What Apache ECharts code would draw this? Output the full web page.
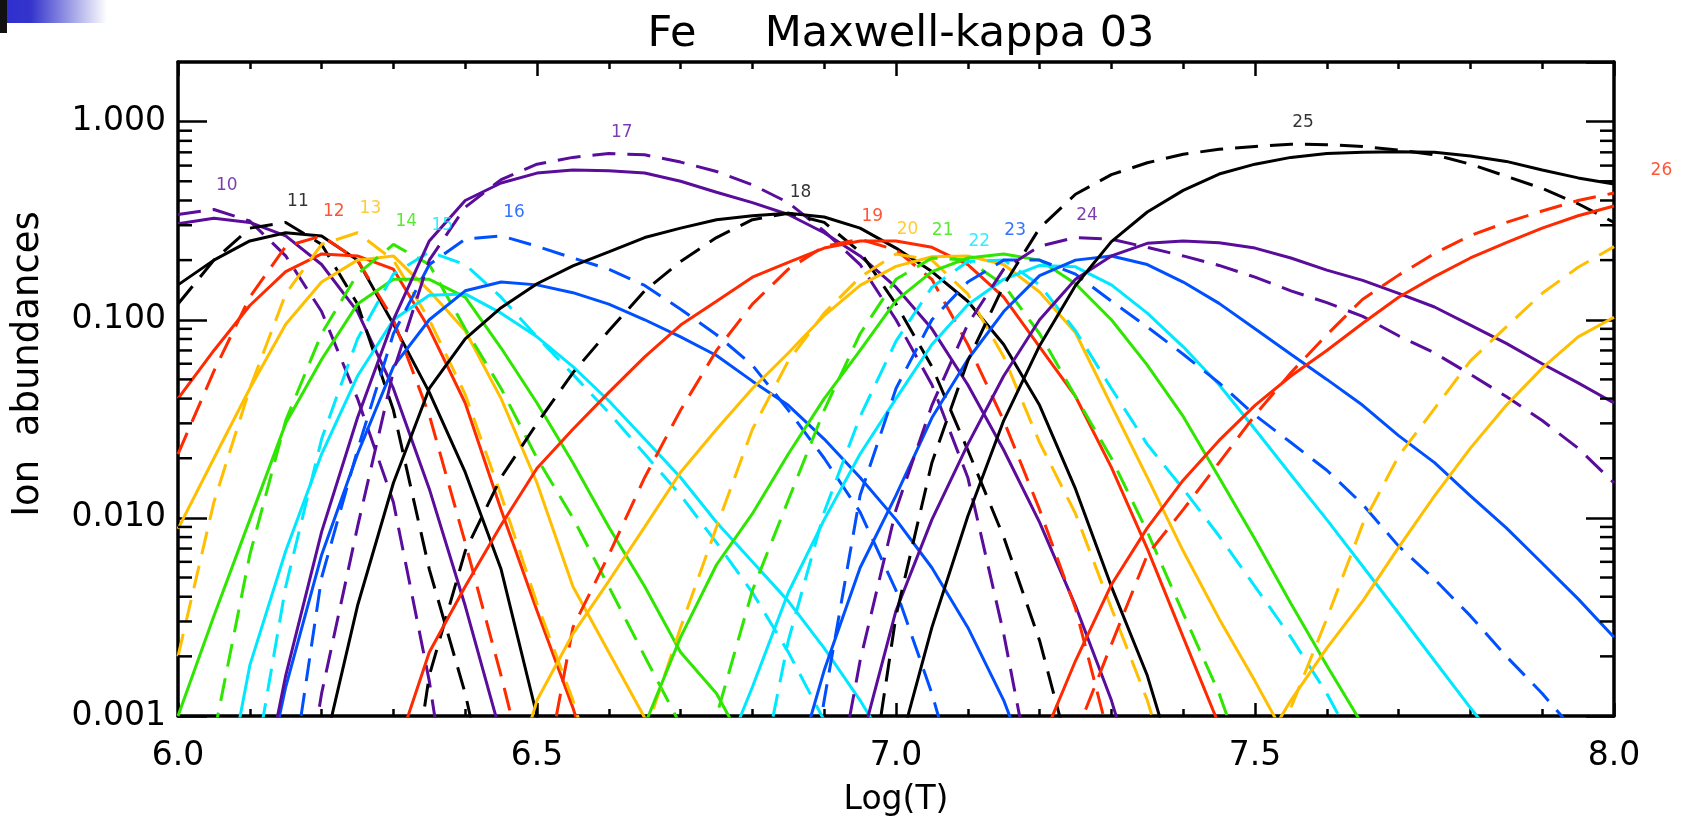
<!DOCTYPE html>
<html><head><meta charset="utf-8">
<script src="https://cdn.jsdelivr.net/npm/echarts@6.0.0/dist/echarts.min.js"></script>
<style>html,body{margin:0;padding:0;background:#fff}#c{width:1687px;height:822px}</style>
</head><body><div id="c"></div>
<script>
// ---- data: [logT, ion fraction] ; solid and dashed curves for each Fe ion ----
const fe10_solid = [[6.00,0.305],[6.05,0.325],[6.10,0.31],[6.15,0.265],[6.20,0.19],[6.25,0.11],[6.30,0.045],[6.35,0.014],[6.40,0.0036],[6.45,0.0008],[6.50,0.0001]];
const fe10_dash  = [[6.00,0.34],[6.05,0.36],[6.10,0.315],[6.15,0.21],[6.20,0.11],[6.25,0.04],[6.30,0.012],[6.35,0.0015],[6.40,0.0001]];
const fe11_solid = [[6.00,0.15],[6.05,0.20],[6.10,0.25],[6.15,0.275],[6.20,0.265],[6.25,0.20],[6.30,0.095],[6.35,0.043],[6.40,0.017],[6.45,0.0055],[6.50,0.001],[6.55,0.00015]];
const fe11_dash  = [[6.00,0.12],[6.05,0.20],[6.10,0.29],[6.15,0.31],[6.20,0.24],[6.25,0.12],[6.30,0.035],[6.35,0.0055],[6.40,0.0013],[6.45,0.0002]];
const fe12_solid = [[6.00,0.04],[6.05,0.07],[6.10,0.118],[6.15,0.175],[6.20,0.215],[6.25,0.21],[6.30,0.18],[6.35,0.09],[6.40,0.038],[6.45,0.011],[6.50,0.0034],[6.55,0.0011],[6.60,0.0003]];
const fe12_dash  = [[6.00,0.021],[6.05,0.055],[6.10,0.13],[6.15,0.235],[6.20,0.265],[6.25,0.20],[6.30,0.10],[6.35,0.033],[6.40,0.0075],[6.45,0.0016],[6.50,0.0003]];
const fe13_solid = [[6.00,0.0088],[6.05,0.02],[6.10,0.045],[6.15,0.095],[6.20,0.155],[6.25,0.20],[6.30,0.21],[6.35,0.14],[6.40,0.088],[6.45,0.04],[6.50,0.015],[6.55,0.0045],[6.60,0.0021],[6.65,0.00098],[6.70,0.0004]];
const fe13_dash  = [[6.00,0.002],[6.05,0.012],[6.10,0.045],[6.15,0.135],[6.20,0.24],[6.25,0.275],[6.30,0.20],[6.35,0.10],[6.40,0.042],[6.45,0.013],[6.50,0.0037],[6.55,0.0012],[6.60,0.0003]];
const fe14_solid = [[6.00,0.001],[6.05,0.0032],[6.10,0.0098],[6.15,0.03],[6.20,0.063],[6.25,0.12],[6.30,0.16],[6.35,0.16],[6.40,0.13],[6.45,0.072],[6.50,0.038],[6.55,0.019],[6.60,0.009],[6.65,0.0045],[6.70,0.0021],[6.75,0.0013],[6.80,0.0006]];
const fe14_dash  = [[6.05,0.0008],[6.10,0.0065],[6.15,0.031],[6.20,0.085],[6.25,0.17],[6.30,0.24],[6.35,0.19],[6.40,0.09],[6.45,0.045],[6.50,0.02],[6.55,0.01],[6.60,0.0045],[6.65,0.002],[6.70,0.0009],[6.75,0.0003]];
const fe15_solid = [[6.05,0.0002],[6.10,0.0018],[6.15,0.0068],[6.20,0.021],[6.25,0.052],[6.30,0.10],[6.35,0.133],[6.40,0.135],[6.45,0.108],[6.50,0.082],[6.55,0.058],[6.60,0.039],[6.65,0.025],[6.70,0.016],[6.75,0.0095],[6.80,0.006],[6.85,0.0038],[6.90,0.0022],[6.95,0.0012],[7.00,0.0006]];
const fe15_dash  = [[6.10,0.0004],[6.15,0.0045],[6.20,0.025],[6.25,0.08],[6.30,0.17],[6.35,0.22],[6.40,0.19],[6.45,0.13],[6.50,0.082],[6.55,0.053],[6.60,0.034],[6.65,0.021],[6.70,0.013],[6.75,0.0075],[6.80,0.0042],[6.85,0.0021],[6.90,0.00095],[6.95,0.0003]];
const fe16_solid = [[6.10,0.0002],[6.15,0.0014],[6.20,0.0065],[6.25,0.021],[6.30,0.058],[6.35,0.10],[6.40,0.14],[6.45,0.155],[6.50,0.15],[6.55,0.137],[6.60,0.12],[6.65,0.10],[6.70,0.082],[6.75,0.066],[6.80,0.049],[6.85,0.037],[6.90,0.025],[6.95,0.016],[7.00,0.0098],[7.05,0.0056],[7.10,0.0028],[7.15,0.0012],[7.20,0.0004]];
const fe16_dash  = [[6.15,0.0003],[6.20,0.005],[6.25,0.022],[6.30,0.085],[6.35,0.19],[6.40,0.255],[6.45,0.265],[6.50,0.235],[6.55,0.205],[6.60,0.18],[6.65,0.149],[6.70,0.113],[6.75,0.084],[6.80,0.059],[6.85,0.035],[6.90,0.02],[6.95,0.0107],[7.00,0.0043],[7.05,0.0013],[7.10,0.0003]];
const fe17_solid = [[6.10,0.0002],[6.15,0.0016],[6.20,0.0085],[6.25,0.032],[6.30,0.10],[6.35,0.25],[6.40,0.40],[6.45,0.49],[6.50,0.55],[6.55,0.57],[6.60,0.565],[6.65,0.55],[6.70,0.50],[6.75,0.44],[6.80,0.39],[6.85,0.34],[6.90,0.275],[6.95,0.21],[7.00,0.146],[7.05,0.09],[7.10,0.047],[7.15,0.022],[7.20,0.0095],[7.25,0.0036],[7.30,0.0012],[7.35,0.0003]];
const fe17_dash  = [[6.15,0.0001],[6.20,0.0013],[6.25,0.009],[6.30,0.055],[6.35,0.2],[6.40,0.37],[6.45,0.51],[6.50,0.61],[6.55,0.66],[6.60,0.69],[6.65,0.68],[6.70,0.625],[6.75,0.56],[6.80,0.48],[6.85,0.39],[6.90,0.28],[6.95,0.19],[7.00,0.10],[7.05,0.047],[7.10,0.016],[7.15,0.0026],[7.20,0.0003]];
const fe18_solid = [[6.20,0.0006],[6.25,0.0036],[6.30,0.015],[6.35,0.045],[6.40,0.08],[6.45,0.115],[6.50,0.152],[6.55,0.187],[6.60,0.22],[6.65,0.26],[6.70,0.29],[6.75,0.32],[6.80,0.335],[6.85,0.345],[6.90,0.33],[6.95,0.29],[7.00,0.23],[7.05,0.175],[7.10,0.124],[7.15,0.075],[7.20,0.037],[7.25,0.014],[7.30,0.0045],[7.35,0.0016],[7.40,0.0004]];
const fe18_dash  = [[6.30,0.0001],[6.35,0.0016],[6.40,0.0068],[6.45,0.016],[6.50,0.03],[6.55,0.054],[6.60,0.088],[6.65,0.14],[6.70,0.197],[6.75,0.26],[6.80,0.32],[6.85,0.345],[6.90,0.31],[6.95,0.22],[7.00,0.12],[7.05,0.058],[7.10,0.022],[7.15,0.008],[7.20,0.0024],[7.25,0.0005]];
const fe19_solid = [[6.30,0.0006],[6.35,0.0021],[6.40,0.0045],[6.45,0.0092],[6.50,0.0178],[6.55,0.028],[6.60,0.043],[6.65,0.065],[6.70,0.094],[6.75,0.124],[6.80,0.164],[6.85,0.195],[6.90,0.23],[6.95,0.25],[7.00,0.25],[7.05,0.232],[7.10,0.19],[7.15,0.13],[7.20,0.073],[7.25,0.041],[7.30,0.018],[7.35,0.007],[7.40,0.0025],[7.45,0.0009],[7.50,0.0003]];
const fe19_dash  = [[6.50,0.0003],[6.55,0.0028],[6.60,0.0065],[6.65,0.016],[6.70,0.035],[6.75,0.07],[6.80,0.12],[6.85,0.18],[6.90,0.235],[6.95,0.255],[7.00,0.225],[7.05,0.16],[7.10,0.075],[7.15,0.031],[7.20,0.011],[7.25,0.0035],[7.30,0.0007]];
const fe20_solid = [[6.45,0.0003],[6.50,0.0012],[6.55,0.0026],[6.60,0.0048],[6.65,0.009],[6.70,0.017],[6.75,0.028],[6.80,0.045],[6.85,0.068],[6.90,0.105],[6.95,0.149],[7.00,0.186],[7.05,0.208],[7.10,0.21],[7.15,0.19],[7.20,0.138],[7.25,0.086],[7.30,0.037],[7.35,0.016],[7.40,0.0068],[7.45,0.0031],[7.50,0.0015],[7.55,0.0007]];
const fe20_dash  = [[6.60,0.0001],[6.65,0.0008],[6.70,0.0028],[6.75,0.009],[6.80,0.028],[6.85,0.062],[6.90,0.108],[6.95,0.164],[7.00,0.215],[7.05,0.2],[7.10,0.135],[7.15,0.065],[7.20,0.024],[7.25,0.0105],[7.30,0.0035],[7.35,0.0012],[7.40,0.0003]];
const fe21_solid = [[6.60,0.0003],[6.65,0.0009],[6.70,0.0025],[6.75,0.0058],[6.80,0.0105],[6.85,0.021],[6.90,0.04],[6.95,0.07],[7.00,0.125],[7.05,0.175],[7.10,0.205],[7.15,0.215],[7.20,0.2],[7.25,0.152],[7.30,0.1],[7.35,0.059],[7.40,0.0325],[7.45,0.016],[7.50,0.0078],[7.55,0.0037],[7.60,0.0018],[7.65,0.0009],[7.70,0.0004]];
const fe21_dash  = [[6.70,0.0001],[6.75,0.001],[6.80,0.0043],[6.85,0.0123],[6.90,0.035],[6.95,0.085],[7.00,0.16],[7.05,0.205],[7.10,0.2],[7.15,0.15],[7.20,0.085],[7.25,0.041],[7.30,0.02],[7.35,0.0085],[7.40,0.0033],[7.45,0.0013],[7.50,0.0004]];
const fe22_solid = [[6.75,0.0005],[6.80,0.0014],[6.85,0.0042],[6.90,0.0098],[6.95,0.021],[7.00,0.04],[7.05,0.075],[7.10,0.119],[7.15,0.16],[7.20,0.188],[7.25,0.185],[7.30,0.15],[7.35,0.108],[7.40,0.073],[7.45,0.047],[7.50,0.028],[7.55,0.0165],[7.60,0.0098],[7.65,0.0057],[7.70,0.0033],[7.75,0.0019],[7.80,0.0011],[7.85,0.00065]];
const fe22_dash  = [[6.80,0.0003],[6.85,0.0024],[6.90,0.0107],[6.95,0.0325],[7.00,0.078],[7.05,0.146],[7.10,0.197],[7.15,0.2],[7.20,0.15],[7.25,0.088],[7.30,0.045],[7.35,0.0235],[7.40,0.014],[7.45,0.0081],[7.50,0.0045],[7.55,0.0025],[7.60,0.0013],[7.65,0.0006]];
const fe23_solid = [[6.85,0.0004],[6.90,0.0017],[6.95,0.0056],[7.00,0.013],[7.05,0.032],[7.10,0.063],[7.15,0.11],[7.20,0.167],[7.25,0.20],[7.30,0.21],[7.35,0.19],[7.40,0.155],[7.45,0.121],[7.50,0.09],[7.55,0.067],[7.60,0.05],[7.65,0.037],[7.70,0.026],[7.75,0.019],[7.80,0.0129],[7.85,0.0089],[7.90,0.0059],[7.95,0.0039],[8.00,0.0025]];
const fe23_dash  = [[6.85,0.0001],[6.90,0.0012],[6.95,0.013],[7.00,0.045],[7.05,0.1],[7.10,0.155],[7.15,0.2],[7.20,0.2],[7.25,0.17],[7.30,0.124],[7.35,0.092],[7.40,0.067],[7.45,0.048],[7.50,0.033],[7.55,0.024],[7.60,0.0174],[7.65,0.0117],[7.70,0.0072],[7.75,0.0049],[7.80,0.0032],[7.85,0.002],[7.90,0.0013],[7.95,0.0008]];
const fe24_solid = [[6.95,0.0007],[7.00,0.0034],[7.05,0.0098],[7.10,0.0235],[7.15,0.052],[7.20,0.1],[7.25,0.16],[7.30,0.21],[7.35,0.243],[7.40,0.25],[7.45,0.245],[7.50,0.23],[7.55,0.205],[7.60,0.178],[7.65,0.158],[7.70,0.136],[7.75,0.116],[7.80,0.094],[7.85,0.076],[7.90,0.06],[7.95,0.048],[8.00,0.038]];
const fe24_dash  = [[6.90,0.0002],[6.95,0.0019],[7.00,0.011],[7.05,0.037],[7.10,0.095],[7.15,0.18],[7.20,0.235],[7.25,0.26],[7.30,0.255],[7.35,0.232],[7.40,0.21],[7.45,0.188],[7.50,0.164],[7.55,0.14],[7.60,0.122],[7.65,0.104],[7.70,0.083],[7.75,0.068],[7.80,0.053],[7.85,0.041],[7.90,0.031],[7.95,0.0225],[8.00,0.015]];
const fe25_solid = [[7.00,0.0006],[7.05,0.0028],[7.10,0.0102],[7.15,0.031],[7.20,0.074],[7.25,0.149],[7.30,0.248],[7.35,0.35],[7.40,0.45],[7.45,0.544],[7.50,0.61],[7.55,0.66],[7.60,0.69],[7.65,0.70],[7.70,0.705],[7.75,0.70],[7.80,0.67],[7.85,0.63],[7.90,0.57],[7.95,0.52],[8.00,0.485]];
const fe25_dash  = [[6.95,0.0002],[7.00,0.0032],[7.05,0.019],[7.10,0.062],[7.15,0.149],[7.20,0.29],[7.25,0.43],[7.30,0.54],[7.35,0.62],[7.40,0.685],[7.45,0.725],[7.50,0.75],[7.55,0.77],[7.60,0.765],[7.65,0.75],[7.70,0.718],[7.75,0.68],[7.80,0.61],[7.85,0.53],[7.90,0.46],[7.95,0.385],[8.00,0.31]];
const fe26_solid = [[7.20,0.0007],[7.25,0.0019],[7.30,0.0046],[7.35,0.0089],[7.40,0.0155],[7.45,0.0246],[7.50,0.037],[7.55,0.052],[7.60,0.07],[7.65,0.096],[7.70,0.13],[7.75,0.165],[7.80,0.205],[7.85,0.245],[7.90,0.29],[7.95,0.335],[8.00,0.375]];
const fe26_dash  = [[7.20,0.0001],[7.25,0.0008],[7.30,0.0023],[7.35,0.0065],[7.40,0.011],[7.45,0.019],[7.50,0.033],[7.55,0.054],[7.60,0.084],[7.65,0.127],[7.70,0.168],[7.75,0.216],[7.80,0.266],[7.85,0.31],[7.90,0.354],[7.95,0.40],[8.00,0.436]];
const fe27_solid = [[7.50,0.0006],[7.55,0.0012],[7.60,0.0022],[7.65,0.0038],[7.70,0.0071],[7.75,0.0129],[7.80,0.0225],[7.85,0.037],[7.90,0.057],[7.95,0.082],[8.00,0.103]];
const fe27_dash  = [[7.50,0.0001],[7.55,0.0011],[7.60,0.0031],[7.65,0.0093],[7.70,0.0205],[7.75,0.0356],[7.80,0.062],[7.85,0.092],[7.90,0.136],[7.95,0.184],[8.00,0.234]];

// ion labels (text, position in data units)
const labelText  = ['10','11','12','13','14','15','16','17','18','19','20','21','22','23','24','25','26'];
const labelLogT  = [6.068,6.167,6.217,6.268,6.318,6.368,6.468,6.618,6.867,6.967,7.016,7.065,7.116,7.166,7.266,7.567,8.066];
const labelAbund = [0.475,0.395,0.352,0.364,0.313,0.298,0.348,0.88,0.438,0.331,0.284,0.281,0.248,0.281,0.335,0.99,0.567];

// axis ticks
const xMajorInterval = 0.5;
const yMinorTicks = [0.002,0.003,0.004,0.005,0.006,0.007,0.008,0.009,0.02,0.03,0.04,0.05,0.06,0.07,0.08,0.09,0.2,0.3,0.4,0.5,0.6,0.7,0.8,0.9];

const ionColors = ['#5a0d9a','#000000','#ff2a00','#ffbf00','#2ee600','#00e8ff','#0050ff'];
const curves = [
  [10,fe10_solid,fe10_dash],[11,fe11_solid,fe11_dash],[12,fe12_solid,fe12_dash],[13,fe13_solid,fe13_dash],
  [14,fe14_solid,fe14_dash],[15,fe15_solid,fe15_dash],[16,fe16_solid,fe16_dash],[17,fe17_solid,fe17_dash],
  [18,fe18_solid,fe18_dash],[19,fe19_solid,fe19_dash],[20,fe20_solid,fe20_dash],[21,fe21_solid,fe21_dash],
  [22,fe22_solid,fe22_dash],[23,fe23_solid,fe23_dash],[24,fe24_solid,fe24_dash],[25,fe25_solid,fe25_dash],
  [26,fe26_solid,fe26_dash],[27,fe27_solid,fe27_dash]
];

const FONT = 'DejaVu Sans';
const series = [];
curves.forEach(([ion, s, d]) => {
  const col = ionColors[(ion - 10) % 7];
  series.push({type:'line', name:'Fe'+ion+' solid', data:s, symbol:'none', clip:true, z:3,
    lineStyle:{color:col, width:3, type:'solid'}});
  series.push({type:'line', name:'Fe'+ion+' dashed', data:d, symbol:'none', clip:true, z:3,
    lineStyle:{color:col, width:3, type:[23,12]}});
});
series.push({
  type:'scatter', symbolSize:0, clip:false, z:10, silent:true,
  data: labelText.map((t,i) => ({
    value:[labelLogT[i], labelAbund[i]], name:t,
    label:{show:true, position:'inside', formatter:t, color: ionColors[(parseInt(t)-10)%7],
      fontSize:17, fontFamily:FONT}
  }))
});
series.push({
  type:'custom', z:8, silent:true, clip:false,
  data: yMinorTicks.map(v => [6, v]),
  encode:{x:0, y:1},
  renderItem: function(params, api){
    const v = api.value(1);
    const pl = api.coord([6, v]);
    const pr = api.coord([8, v]);
    return {type:'group', children:[
      {type:'line', shape:{x1:pl[0], y1:pl[1], x2:pl[0]+14, y2:pl[1]}, style:{stroke:'#000', lineWidth:2.5}},
      {type:'line', shape:{x1:pr[0]-14, y1:pr[1], x2:pr[0], y2:pr[1]}, style:{stroke:'#000', lineWidth:2.5}}
    ]};
  }
});

const axisLineStyle = {show:true, onZero:false, lineStyle:{color:'#000', width:3.5}};
const chart = echarts.init(document.getElementById('c'), null, {renderer:'canvas'});
chart.setOption({
  animation:false,
  backgroundColor:'#ffffff',
  title:{text:'Fe     Maxwell-kappa 03', left:896, top:8, textAlign:'center',
    textStyle:{fontFamily:FONT, fontSize:43, fontWeight:'normal', color:'#000'}},
  grid:{left:178, right:73, top:62, bottom:105.5, containLabel:false},
  xAxis:[
    {type:'value', min:6, max:8, interval:xMajorInterval, position:'bottom',
      axisLine:axisLineStyle,
      axisTick:{show:true, inside:true, length:13, lineStyle:{color:'#000', width:2.5}},
      minorTick:{show:true, splitNumber:5, length:7, lineStyle:{color:'#000', width:2.5}},
      splitLine:{show:false}, minorSplitLine:{show:false},
      axisLabel:{formatter:v=>v.toFixed(1), fontSize:33, fontFamily:FONT, color:'#000', margin:24},
      name:'Log(T)', nameLocation:'middle', nameGap:68,
      nameTextStyle:{fontSize:33, fontFamily:FONT, color:'#000'}},
    {type:'value', min:6, max:8, interval:xMajorInterval, position:'top',
      axisLine:axisLineStyle,
      axisTick:{show:true, inside:true, length:14, lineStyle:{color:'#000', width:2.5}},
      minorTick:{show:true, splitNumber:5, length:7, lineStyle:{color:'#000', width:2.5}},
      splitLine:{show:false}, axisLabel:{show:false}}
  ],
  yAxis:[
    {type:'log', logBase:10, min:0.001, max:2, position:'left',
      axisLine:axisLineStyle,
      axisTick:{show:true, inside:true, length:29, lineStyle:{color:'#000', width:2.5}},
      splitLine:{show:false},
      axisLabel:{formatter:v=>Number(v).toFixed(3), showMaxLabel:false, fontSize:33, fontFamily:FONT, color:'#000', margin:12}},
    {type:'log', logBase:10, min:0.001, max:2, position:'right',
      axisLine:axisLineStyle,
      axisTick:{show:true, inside:true, length:28, lineStyle:{color:'#000', width:2.5}},
      splitLine:{show:false}, axisLabel:{show:false}}
  ],
  graphic:[
    {type:'rect', shape:{x:0, y:0, width:7, height:33}, style:{fill:'#111111'}},
    {type:'rect', shape:{x:7, y:0, width:100, height:23},
      style:{fill:{type:'linear', x:0, y:0, x2:1, y2:0,
        colorStops:[{offset:0, color:'#2f2fcf'},{offset:0.24, color:'#3535cc'},{offset:1, color:'#ffffff'}]}}},
    {type:'text', x:28, y:364, rotation:Math.PI/2,
      style:{text:'Ion  abundances', fontSize:37, fontFamily:FONT, fill:'#000', textAlign:'center', textVerticalAlign:'middle'}}
  ],
  series: series
});
</script>
</body></html>
